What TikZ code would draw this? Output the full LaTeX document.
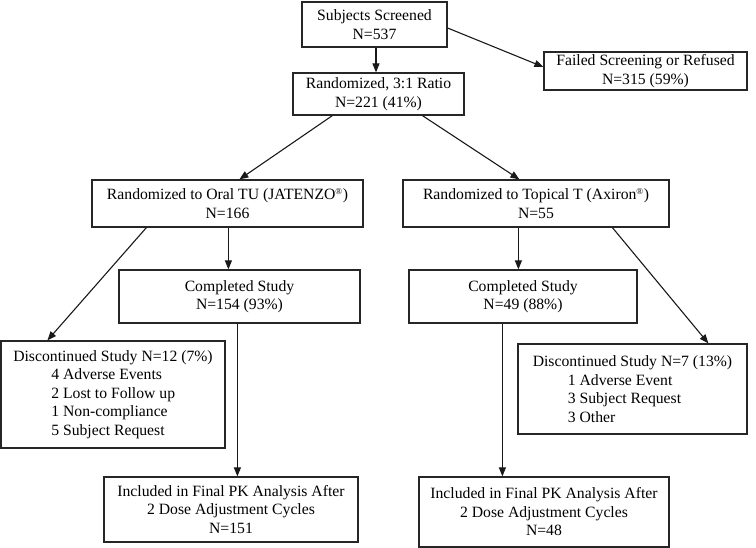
\documentclass[tikz,border=0pt]{standalone}
\usepackage{fontspec}
\setmainfont{Liberation Serif}
\usetikzlibrary{arrows.meta}
\tikzset{
  box/.style={draw=black!85, line width=1.2pt, align=center, inner sep=0pt,
    font=\fontsize{15.7}{18.5}\selectfont},
  arr/.style={draw=black!90, line width=1.1pt, -{Triangle[length=9pt,width=7pt]}},
  ln/.style={draw=black!90, line width=1.1pt}
}
\newcommand{\reg}{\textsuperscript{\fontsize{9}{9}\selectfont ®}}
\begin{document}
\begin{tikzpicture}[x=1pt,y=-1pt]
\useasboundingbox (0,0) rectangle (756,548);
\node[box, minimum width=145pt, minimum height=45pt] (screened) at (374.5,24.5) {Subjects Screened\\N=537};
\node[box, minimum width=203pt, minimum height=38pt] (failed) at (645.5,71) {Failed Screening or Refused\\N=315 (59\%)};
\node[box, minimum width=171pt, minimum height=42pt] (rand) at (378.5,94) {Randomized, 3:1 Ratio\\N=221 (41\%)};
\node[box, minimum width=271pt, minimum height=47pt] (oral) at (227.5,203.5) {Randomized to Oral TU (JATENZO\reg)\\N=166};
\node[box, minimum width=266pt, minimum height=47pt] (topical) at (536,203.5) {Randomized to Topical T (Axiron\reg)\\N=55};
\node[box, minimum width=241pt, minimum height=53pt] (compOral) at (239.5,296.5) {Completed Study\\N=154 (93\%)};
\node[box, minimum width=228pt, minimum height=53pt] (compTop) at (523,296.5) {Completed Study\\N=49 (88\%)};
\node[box, align=left, minimum width=224pt, minimum height=107pt] (discOral) at (113,394.5) {Discontinued Study N=12 (7\%)\\\hspace*{38pt}4 Adverse Events\\\hspace*{38pt}2 Lost to Follow up\\\hspace*{38pt}1 Non-compliance\\\hspace*{38pt}5 Subject Request};
\node[box, align=left, minimum width=229pt, minimum height=90pt] (discTop) at (632.5,389) {Discontinued Study N=7 (13\%)\\\hspace*{35pt}1 Adverse Event\\\hspace*{35pt}3 Subject Request\\\hspace*{35pt}3 Other};
\node[box, minimum width=254pt, minimum height=65pt] (inclOral) at (231,509.5) {Included in Final PK Analysis After\\2 Dose Adjustment Cycles\\N=151};
\node[box, minimum width=250pt, minimum height=70pt] (inclTop) at (544,512) {Included in Final PK Analysis After\\2 Dose Adjustment Cycles\\N=48};

\draw[arr] ([xshift=1.5pt]screened.south) -- ([xshift=1.5pt]screened.south |- rand.north);
\draw[arr] ([yshift=-3.5pt]screened.east) -- ([yshift=4pt]failed.west);
\draw[arr] ([xshift=40pt]rand.south west) -- ([xshift=148pt]oral.north west);
\draw[arr] ([xshift=130pt]rand.south west) -- ([xshift=117pt]topical.north west);
\draw[arr] ([xshift=137pt]oral.south west) -- ([xshift=137pt]oral.south west |- compOral.north);
\draw[arr] ([xshift=55pt]oral.south west) -- ([xshift=47pt]discOral.north west);
\draw[arr] ([xshift=116pt]topical.south west) -- ([xshift=116pt]topical.south west |- compTop.north);
\draw[arr] ([xshift=210pt]topical.south west) -- ([xshift=191pt]discTop.north west);
\draw[arr] ([xshift=119pt]compOral.south west) -- ([xshift=119pt]compOral.south west |- inclOral.north);
\draw[arr] ([xshift=94pt]compTop.south west) -- ([xshift=94pt]compTop.south west |- inclTop.north);
\end{tikzpicture}
\end{document}
